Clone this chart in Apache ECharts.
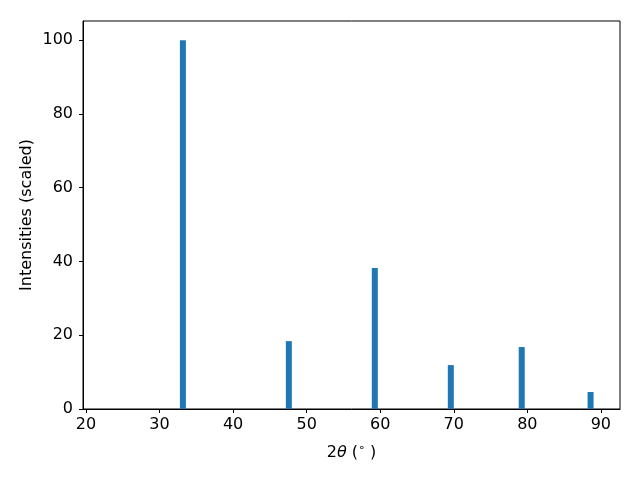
<!DOCTYPE html>
<html><head><meta charset="utf-8">
<script src="https://cdn.jsdelivr.net/npm/echarts@6/dist/echarts.min.js"></script>
<style>html,body{margin:0;padding:0;background:#fff}#c{width:640px;height:480px}</style>
</head><body><div id="c"></div>
<script>
const twoTheta = [33.18, 47.58, 59.27, 69.6, 79.24, 88.6];
const intensity = [100, 18.4, 38.2, 11.9, 16.8, 4.6];
const xTicks = [20, 30, 40, 50, 60, 70, 80, 90];
const yTicks = [0, 20, 40, 60, 80, 100];

const chart = echarts.init(document.getElementById('c'), null, {renderer: 'canvas'});
const font = 'DejaVu Sans';
chart.setOption({
  animation: false,
  grid: {left: 83, right: 20, top: 21, bottom: 71, show: true, borderColor: '#000', borderWidth: 1, containLabel: false},
  xAxis: {
    type: 'value', min: 19.6, max: 92.6,
    axisLine: {show: true, onZero: false, lineStyle: {color: '#000'}},
    splitLine: {show: false},
    axisTick: {show: true, length: 4, lineStyle: {color: '#000'}, customValues: xTicks},
    axisLabel: {color: '#000', fontFamily: font, fontSize: 16, margin: 8, customValues: xTicks},
    name: '{a|2}{i|θ}{a| (}{s|∘}{a| )}', nameLocation: 'middle', nameGap: 34,
    nameTextStyle: {rich: {
      a: {fontFamily: font, fontSize: 16, color: '#000'},
      i: {fontFamily: font, fontSize: 16, fontStyle: 'italic', color: '#000'},
      s: {fontFamily: font, fontSize: 11, color: '#000', verticalAlign: 'top', padding: [0, 0, 8, 0]}
    }}
  },
  yAxis: {
    type: 'value', min: 0, max: 105.2,
    axisLine: {show: true, lineStyle: {color: '#000'}},
    splitLine: {show: false},
    axisTick: {show: true, length: 4, lineStyle: {color: '#000'}, customValues: yTicks},
    axisLabel: {color: '#000', fontFamily: font, fontSize: 16, margin: 10, customValues: yTicks},
    name: 'Intensities (scaled)', nameLocation: 'middle', nameGap: 48, nameRotate: 90,
    nameMoveOverlap: false,
    nameTextStyle: {color: '#000', fontFamily: font, fontSize: 16}
  },
  series: [{
    type: 'bar', barWidth: 6,
    itemStyle: {color: '#1f77b4'},
    data: twoTheta.map((x, i) => [x, intensity[i]])
  }]
});
</script></body></html>
